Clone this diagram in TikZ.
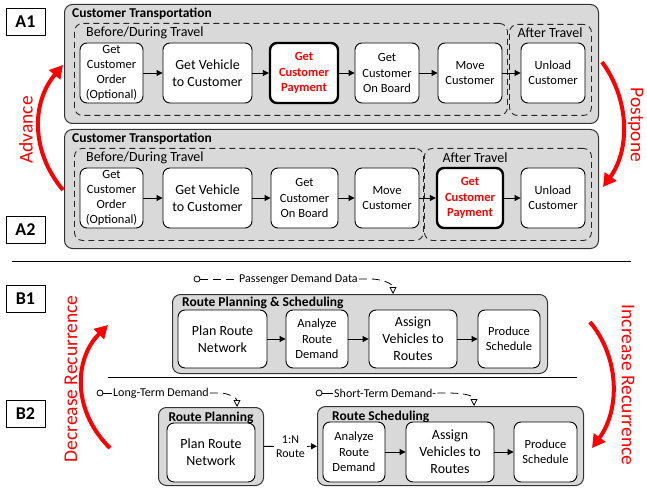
\documentclass[tikz,border=0pt]{standalone}
\usepackage{fontspec}
\setmainfont{Carlito}
\usetikzlibrary{arrows.meta}
\tikzset{
 outer/.style={draw=black!80, fill=black!15, rounded corners=8pt, line width=1pt, inner sep=0pt, anchor=north west},
 dbox/.style={draw=black!85, dash pattern=on 6pt off 4pt, rounded corners=8pt, line width=0.9pt, inner sep=0pt, anchor=north west},
 proc/.style={draw=black, fill=white, rounded corners=7pt, line width=0.9pt, align=center, inner sep=1pt},
 big/.style={font=\fontsize{14}{17}\selectfont},
 small/.style={font=\fontsize{12.5}{15.3}\selectfont},
 keyproc/.style={proc, line width=2.4pt, text=red, font=\fontsize{12.5}{15.5}\selectfont\bfseries},
 flow/.style={-{Triangle[length=6pt,width=6pt]}, line width=0.9pt},
 redarc/.style={draw=red, line width=4pt, -{Triangle[length=13pt,width=14pt]}},
 lbl/.style={draw=black, line width=1pt, minimum width=39pt, minimum height=27pt, inner sep=0pt, font=\fontsize{18}{20}\selectfont\bfseries},
 ttl/.style={font=\fontsize{13.5}{15}\selectfont\bfseries, inner sep=0pt},
 sub/.style={font=\fontsize{14}{16}\selectfont, inner sep=0pt},
 anno/.style={font=\fontsize{12}{14}\selectfont, inner sep=1pt},
 dot/.style={circle, draw=black, line width=0.8pt, inner sep=0pt, minimum size=6pt},
 dline/.style={line width=0.8pt, dash pattern=on 8pt off 5pt},
 ann/.style={dline, -{Triangle[open,length=7pt,width=7pt]}},
 redtxt/.style={text=red, font=\fontsize{19.5}{21}\selectfont, inner sep=0pt},
}
\begin{document}
\begin{tikzpicture}[x=1pt,y=-1pt]
\useasboundingbox (0,0) rectangle (647,489);
% ---------- A1 ----------
\node[lbl] (lA1) at (25.5,22) {A1};
\node[outer, minimum width=534pt, minimum height=119pt] (A1) at (64,4) {};
\node[ttl, anchor=west] (A1t) at (72,13.5) {Customer Transportation};
\node[dbox, minimum width=433pt, minimum height=92pt] (A1b) at (74,23) {};
\node[dbox, minimum width=82pt, minimum height=91pt] (A1a) at (509,24) {};
\node[sub, anchor=west] (A1bt) at (86,32.5) {Before/During Travel};
\node[sub] (A1at) at (550,32.5) {After Travel};
\node[proc, small, minimum width=63pt, minimum height=60pt] (a1o) at (111.5,73) {Get\\Customer\\Order\\(Optional)};
\node[proc, big, minimum width=89pt, minimum height=60pt] (a1v) at (207.5,73) {Get Vehicle\\to Customer};
\node[keyproc, minimum width=68pt, minimum height=60pt] (a1p) at (304,73) {Get\\Customer\\Payment};
\node[proc, small, minimum width=64pt, minimum height=60pt] (a1b) at (387,73) {Get\\Customer\\On Board};
\node[proc, small, minimum width=64pt, minimum height=60pt] (a1m) at (470,73) {Move\\Customer};
\node[proc, small, minimum width=64pt, minimum height=60pt] (a1u) at (553,73) {Unload\\Customer};
\draw[flow] (a1o) -- (a1v);
\draw[flow] (a1v) -- (a1p);
\draw[flow] (a1p) -- (a1b);
\draw[flow] (a1b) -- (a1m);
\draw[flow] (a1m) -- (a1u);
% ---------- A2 ----------
\node[lbl] (lA2) at (25.5,230) {A2};
\node[outer, minimum width=534pt, minimum height=119pt] (A2) at (64,129) {};
\node[ttl, anchor=west] (A2t) at (72,138.5) {Customer Transportation};
\node[dbox, minimum width=349pt, minimum height=92pt] (A2b) at (74,148) {};
\node[dbox, minimum width=167pt, minimum height=92pt] (A2a) at (424,148) {};
\node[sub, anchor=west] (A2bt) at (86,157.5) {Before/During Travel};
\node[sub] (A2at) at (475,157.5) {After Travel};
\node[proc, small, minimum width=63pt, minimum height=60pt] (a2o) at (111.5,198) {Get\\Customer\\Order\\(Optional)};
\node[proc, big, minimum width=89pt, minimum height=60pt] (a2v) at (207.5,198) {Get Vehicle\\to Customer};
\node[proc, small, minimum width=67pt, minimum height=60pt] (a2b) at (304.5,198) {Get\\Customer\\On Board};
\node[proc, small, minimum width=64pt, minimum height=60pt] (a2m) at (387,198) {Move\\Customer};
\node[keyproc, minimum width=66pt, minimum height=60pt] (a2p) at (470,198) {Get\\Customer\\Payment};
\node[proc, small, minimum width=64pt, minimum height=60pt] (a2u) at (553,198) {Unload\\Customer};
\draw[flow] (a2o) -- (a2v);
\draw[flow] (a2v) -- (a2b);
\draw[flow] (a2b) -- (a2m);
\draw[flow] (a2m) -- (a2p);
\draw[flow] (a2p) -- (a2u);
% red arcs A
\coordinate (adv0) at (63,190);
\coordinate (adv1) at (63,65);
\draw[redarc] (adv0) .. controls (31,152) and (31,103) .. (adv1);
\node[redtxt, rotate=90] (advt) at (26,130) {Advance};
\coordinate (pp0) at (602,62);
\coordinate (pp1) at (603,187);
\draw[redarc] (pp0) .. controls (630,100) and (630,150) .. (pp1);
\node[redtxt, rotate=-90] (ppt) at (635.5,125) {Postpone};
% separator
\coordinate (s1a) at (12,261);
\coordinate (s1b) at (631,261);
\draw[line width=1pt] (s1a) -- (s1b);
% ---------- B1 ----------
\node[lbl] (lB1) at (25.5,299) {B1};
\node[dot] (c1) at (197,279) {};
\node[anno, anchor=west] (t1) at (238,279) {Passenger Demand Data};
\coordinate (d1) at (393,294);
\draw[dline] (c1) -- (t1);
\draw[ann] (t1.east) -- ++(12,0) to[out=0,in=90] (d1);
\node[outer, minimum width=375pt, minimum height=79pt] (B1) at (172,294) {};
\node[ttl, anchor=west] (B1t) at (182,302.5) {Route Planning \& Scheduling};
\node[proc, big, minimum width=89pt, minimum height=58pt] (b1p) at (222.5,339) {Plan Route\\Network};
\node[proc, small, minimum width=62pt, minimum height=58pt] (b1a) at (317,339) {Analyze\\Route\\Demand};
\node[proc, big, minimum width=88pt, minimum height=58pt] (b1v) at (413,339) {Assign\\Vehicles to\\Routes};
\node[proc, small, minimum width=62pt, minimum height=58pt] (b1s) at (509,339) {Produce\\Schedule};
\draw[flow] (b1p) -- (b1a);
\draw[flow] (b1a) -- (b1v);
\draw[flow] (b1v) -- (b1s);
% separator 2
\coordinate (s2a) at (108,377);
\coordinate (s2b) at (577,377);
\draw[line width=1pt] (s2a) -- (s2b);
% ---------- B2 ----------
\node[lbl] (lB2) at (25.5,413.5) {B2};
\node[dot] (c2) at (100,393) {};
\node[anno, anchor=west] (t2) at (112,393) {Long-Term Demand};
\coordinate (d2) at (237,407);
\draw[line width=0.8pt] (c2) -- (t2);
\draw[ann] (t2.east) -- ++(10,0) to[out=0,in=90] (d2);
\node[dot] (c3) at (319,393) {};
\node[anno, anchor=west] (t3) at (333,393) {Short-Term Demand-};
\coordinate (d3) at (474,406);
\draw[line width=0.8pt] (c3) -- (t3);
\draw[ann] (t3.east) -- ++(10,0) to[out=0,in=90] (d3);
\node[outer, minimum width=105pt, minimum height=78pt] (RP) at (158,407) {};
\node[ttl] (RPt) at (211,417.5) {Route Planning};
\node[proc, big, minimum width=88pt, minimum height=59pt] (b2p) at (211,452.5) {Plan Route\\Network};
\node[outer, minimum width=266pt, minimum height=79pt] (RS) at (317,406) {};
\node[ttl, anchor=west] (RSt) at (332,416.5) {Route Scheduling};
\node[proc, small, minimum width=62pt, minimum height=60pt] (b2a) at (354,452) {Analyze\\Route\\Demand};
\node[proc, big, minimum width=88pt, minimum height=60pt] (b2v) at (450,452) {Assign\\Vehicles to\\Routes};
\node[proc, small, minimum width=63pt, minimum height=60pt] (b2s) at (545.5,452) {Produce\\Schedule};
\draw[flow] (RP) -- node[fill=white, anno, align=center, inner sep=2pt] (nr) {1:N\\Route} (RS);
\draw[flow] (b2a) -- (b2v);
\draw[flow] (b2v) -- (b2s);
% red arcs B
\coordinate (dr0) at (110,448);
\coordinate (dr1) at (108,325);
\draw[redarc] (dr0) .. controls (73,412) and (73,360) .. (dr1);
\node[redtxt, rotate=90] (drt) at (71,379) {Decrease Recurrence};
\coordinate (ir0) at (590,322);
\coordinate (ir1) at (592,448);
\draw[redarc] (ir0) .. controls (620,358) and (620,410) .. (ir1);
\node[redtxt, rotate=-90] (irt) at (628,385) {Increase Recurrence};
\end{tikzpicture}
\end{document}
